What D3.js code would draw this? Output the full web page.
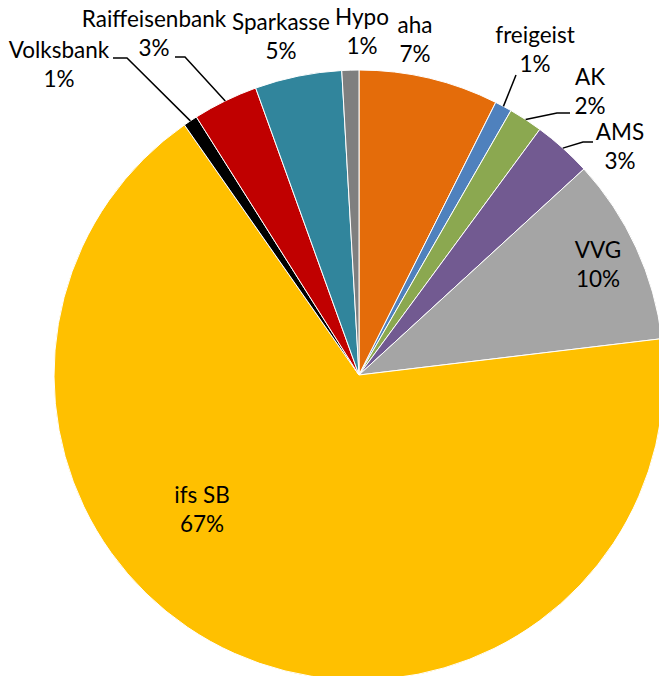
<!DOCTYPE html>
<html>
    <head>
        <meta charset="utf-8">
        <title>Pie</title>
        <script src="https://d3js.org/d3.v7.min.js" charset="utf-8"></script>
        <style>
            body { margin: 0; background: #fff; }
            text { font-family: Lato, "Open Sans", sans-serif; font-size: 22.5px; fill: #000; }
        </style>
    </head>
    <body>
        <script>
            // data, clockwise from 12 o'clock
            var names = ["aha","freigeist","AK","AMS","VVG","ifs SB","Volksbank","Raiffeisenbank","Sparkasse","Hypo"];
            var values = [7.4, 0.9, 1.8, 3.1, 9.9, 67.2, 0.75, 3.45, 4.6, 0.9];
            var colors = ["#E46C0A","#4F81BD","#8BA850","#725A91","#A5A5A5","#FFC000","#000000","#C00000","#31859C","#7F7F7F"];

            var width = 659, height = 676,
                cx = 359, cy = 375, radius = 305;

            // label placement relative to centre: [x, baseline of first line]
            // leader: [start point, elbow point] or null
            var labelLayout = {
                "aha":            {pos: [56, -342]},
                "freigeist":      {pos: [176, -332], leader: [[157, -300], null]},
                "AK":             {pos: [231, -290], leader: [[211, -262], [198, -262]]},
                "AMS":            {pos: [261, -235], leader: [[234, -233], [224, -233]]},
                "VVG":            {pos: [239, -117]},
                "ifs SB":         {pos: [-157, 128]},
                "Volksbank":      {pos: [-300, -317], leader: [[-246, -317], [-232, -317]]},
                "Raiffeisenbank": {pos: [-205, -348], leader: [[-184, -318], [-174, -318]]},
                "Sparkasse":      {pos: [-78, -345]},
                "Hypo":           {pos: [3, -350]}
            };

            var total = d3.sum(values);
            var data = names.map(function(n, i) { return {name: n, value: values[i], color: colors[i]}; });

            var pie = d3.pie().sort(null).value(function(d) { return d.value; });
            var arc = d3.arc().innerRadius(0).outerRadius(radius);
            var edgeArc = d3.arc().innerRadius(radius).outerRadius(radius);

            var svg = d3.select("body").append("svg")
                .attr("width", width)
                .attr("height", height);

            var g = svg.append("g")
                .attr("transform", "translate(" + cx + "," + cy + ")");

            var arcs = pie(data);

            g.selectAll(".slice")
                .data(arcs)
                .enter().append("path")
                .attr("class", "slice")
                .attr("d", arc)
                .style("fill", function(d) { return d.data.color; })
                .style("stroke", "#fff")
                .style("stroke-width", 1);

            // leader lines
            g.selectAll(".leader")
                .data(arcs.filter(function(d) { return labelLayout[d.data.name].leader; }))
                .enter().append("polyline")
                .attr("class", "leader")
                .attr("points", function(d) {
                    var l = labelLayout[d.data.name].leader;
                    var pts = [l[0]];
                    if (l[1]) pts.push(l[1]);
                    pts.push(edgeArc.centroid(d));
                    return pts.map(function(p) { return p.join(","); }).join(" ");
                })
                .style("fill", "none")
                .style("stroke", "#000")
                .style("stroke-width", 1.5);

            // labels
            var labels = g.selectAll(".lbl")
                .data(arcs)
                .enter().append("text")
                .attr("class", "lbl")
                .attr("text-anchor", "middle")
                .attr("transform", function(d) {
                    var p = labelLayout[d.data.name].pos;
                    return "translate(" + p[0] + "," + p[1] + ")";
                });
            labels.append("tspan")
                .attr("x", 0)
                .text(function(d) { return d.data.name; });
            labels.append("tspan")
                .attr("x", 0)
                .attr("dy", 29)
                .text(function(d) { return Math.round(d.data.value / total * 100) + "%"; });
        </script>
    </body>
</html>
